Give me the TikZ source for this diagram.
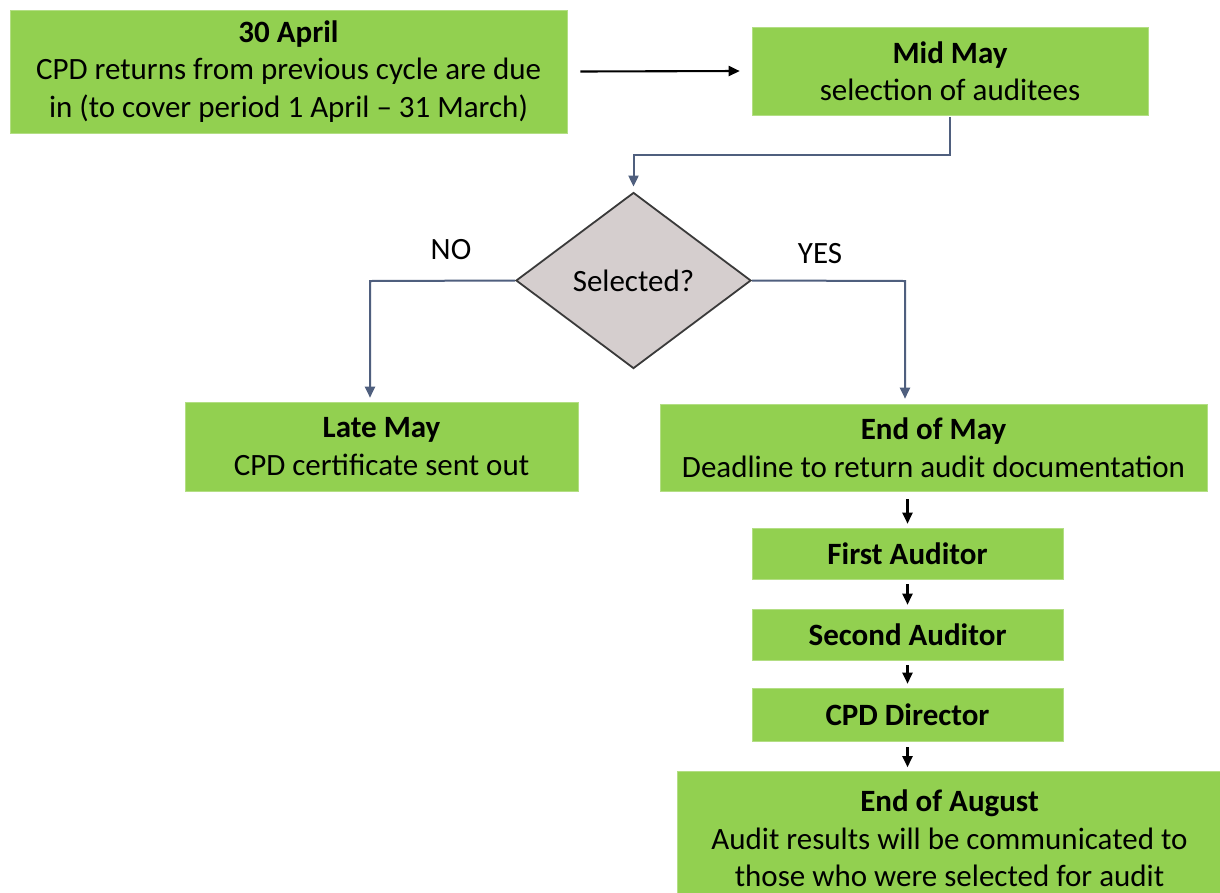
\documentclass[tikz,border=0pt]{standalone}
\usepackage{fontspec}
\setmainfont{Carlito}
\usetikzlibrary{arrows.meta,shapes.geometric}
\definecolor{boxgreen}{HTML}{92D050}
\definecolor{diafill}{HTML}{D5CECE}
\definecolor{diadraw}{HTML}{3A3A3A}
\definecolor{slate}{HTML}{4F5F7E}
\tikzset{
  box/.style={fill=boxgreen, draw=boxgreen!70!white, line width=0.6pt, align=center, inner sep=0pt,
    font=\fontsize{31}{37.5}\selectfont},
  decision/.style={diamond, fill=diafill, draw=diadraw, line width=1.8pt, inner sep=0pt,
    minimum width=235pt, minimum height=176pt, font=\fontsize{31}{37.5}\selectfont},
  lbl/.style={font=\fontsize{31}{37.5}\selectfont, inner sep=0pt},
  blackarrow/.style={draw=black, line width=2.1pt, -{Triangle[length=11pt,width=10pt]}},
  slatearrow/.style={draw=slate, line width=2pt, -{Triangle[length=11pt,width=10pt]}},
}
\begin{document}
\begin{tikzpicture}[x=1pt,y=-1pt]
\useasboundingbox (0,0) rectangle (1220,892);
\clip (0,0) rectangle (1220,892);
\fill[white] (0,0) rectangle (1220,892);

\node[box, minimum width=557pt, minimum height=123pt] (apr) at (288.5,71.5)
  {\textbf{30 April}\\CPD returns from previous cycle are due\\in (to cover period 1 April -- 31 March)};
\node[box, minimum width=396pt, minimum height=88pt] (mid) at (950,71)
  {\textbf{Mid May}\\selection of auditees};
\node[decision] (dia) at (633.5,280.5) {Selected?};
\node[box, minimum width=393pt, minimum height=89pt] (late) at (381.5,446.5)
  {\textbf{Late May}\\CPD certificate sent out};
\node[box, minimum width=547pt, minimum height=87pt] (end) at (933.5,447.5)
  {\textbf{End of May}\\Deadline to return audit documentation};
\node[box, minimum width=311pt, minimum height=51pt] (first) at (907.5,553.5)
  {\textbf{First Auditor}};
\node[box, minimum width=311pt, minimum height=51pt] (second) at (907.5,634.5)
  {\textbf{Second Auditor}};
\node[box, minimum width=311pt, minimum height=53pt] (dir) at (907.5,714.5)
  {\textbf{CPD Director}};
\node[box, minimum width=545pt, minimum height=134pt] (aug) at (949.5,838.5)
  {\textbf{End of August}\\Audit results will be communicated to\\those who were selected for audit};

\node[lbl] (no) at (451,250) {NO};
\node[lbl] (yes) at (820,254) {YES};

\draw[blackarrow] ([xshift=13pt]apr.east) -- ([xshift=-12pt]mid.west);
\draw[slatearrow] ([yshift=-2pt]mid.south) -- ++(0,38) -| ([yshift=5pt]dia.north);
\draw[slatearrow] (dia.west) -- (370,281) -- ([yshift=4pt]late.north -| 370,0);
\draw[slatearrow] (dia.east) -- (905,281) -- ([yshift=5pt]end.north -| 905,0);
\draw[blackarrow] ([yshift=-8pt]end.south -| first.south) -- ([yshift=4pt]first.north);
\draw[blackarrow] ([yshift=-5pt]first.south) -- ([yshift=4pt]second.north);
\draw[blackarrow] ([yshift=-5pt]second.south) -- ([yshift=4pt]dir.north);
\draw[blackarrow] ([yshift=-6pt]dir.south) -- ([yshift=4pt]aug.north -| dir.south);
\end{tikzpicture}
\end{document}
